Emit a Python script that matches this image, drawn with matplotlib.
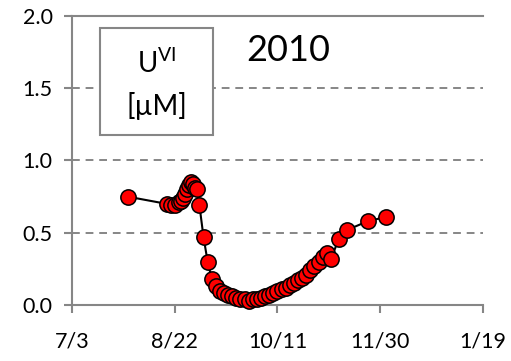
import pandas as pd
import matplotlib.pyplot as plt
from matplotlib.patches import Rectangle

plt.rcParams['font.family'] = ['Lato', 'DejaVu Sans']
plt.rcParams['mathtext.fontset'] = 'custom'
plt.rcParams['mathtext.rm'] = 'Lato'

start = pd.Timestamp("2010-07-03")

# sampling day (counted from 7/3) and U(VI) concentration in uM
day = [27, 46, 48, 50, 52, 53, 54, 55, 56, 57, 58, 59, 60, 61, 62,
       64, 66, 68, 70, 72, 74, 76, 78, 80, 82, 84, 86, 88, 90, 92,
       94, 96, 98, 100, 102, 104, 106, 108, 110, 112, 114, 116, 118,
       120, 122, 124, 126, 130, 134, 144, 153]
uvi = [0.75, 0.70, 0.69, 0.69, 0.71, 0.72, 0.74, 0.77, 0.80, 0.83, 0.85,
       0.84, 0.81, 0.80, 0.69,
       0.47, 0.30, 0.18, 0.13, 0.10, 0.08, 0.07, 0.06, 0.05, 0.045, 0.04,
       0.03, 0.04, 0.045, 0.05, 0.06, 0.07, 0.08, 0.10, 0.11, 0.12,
       0.14, 0.15, 0.17, 0.19, 0.21, 0.24, 0.27, 0.30, 0.33, 0.36,
       0.32, 0.46, 0.52, 0.58, 0.61]

tick_days = [0, 50, 100, 150, 200]
tick_labels = ["7/3", "8/22", "10/11", "11/30", "1/19"]

dates = [start + pd.Timedelta(days=d) for d in day]
tick_dates = [start + pd.Timedelta(days=d) for d in tick_days]

grey = "#868686"

fig = plt.figure(figsize=(5.11, 3.61), dpi=100)
ax = fig.add_axes([0.141, 0.155, 0.804, 0.801])

for yv in [0.5, 1.0, 1.5]:
    ax.axhline(yv, color=grey, lw=1.4, ls=(0, (4, 3)), zorder=1)

ax.plot(dates, uvi, color="black", lw=1.5, marker="o", ms=11,
        mfc="red", mec="black", mew=1.1, zorder=3, clip_on=False)

ax.set_xlim(tick_dates[0], tick_dates[-1])
ax.set_ylim(0, 2.0)
ax.set_xticks(tick_dates)
ax.set_xticklabels(tick_labels)
ax.set_yticks([0, 0.5, 1.0, 1.5, 2.0])
ax.set_yticklabels(["0.0", "0.5", "1.0", "1.5", "2.0"])

ax.spines["right"].set_visible(False)
for s in ["left", "bottom", "top"]:
    ax.spines[s].set_color(grey)
    ax.spines[s].set_linewidth(1.5)

ax.tick_params(axis="both", direction="out", color=grey, width=1.5,
               length=6, labelsize=15.5, labelcolor="black")
ax.tick_params(axis="x", pad=13)
ax.tick_params(axis="y", pad=8)

# label box
ax.add_patch(Rectangle((0.068, 0.588), 0.275, 0.37, transform=ax.transAxes,
                       fill=True, facecolor="white", edgecolor=grey, lw=1.5,
                       zorder=4))
ax.text(0.207, 0.838, r"U$^{\mathrm{VI}}$", transform=ax.transAxes,
        ha="center", va="center", fontsize=20, zorder=5)
ax.text(0.207, 0.69, "[µM]", transform=ax.transAxes,
        ha="center", va="center", fontsize=20, zorder=5)
ax.text(0.526, 0.882, "2010", transform=ax.transAxes,
        ha="center", va="center", fontsize=26, zorder=5)

fig.savefig("out.png", dpi=100)
